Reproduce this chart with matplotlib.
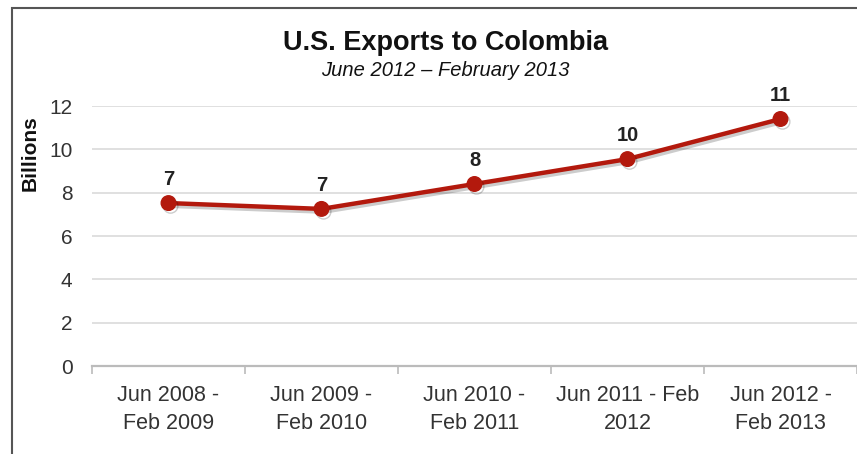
import matplotlib
matplotlib.use("Agg")
import matplotlib.pyplot as plt
import matplotlib.patheffects as pe
from matplotlib.patches import Rectangle

plt.rcParams['font.family'] = ['Liberation Sans', 'DejaVu Sans']

# data
periods = ["Jun 2008 -\nFeb 2009", "Jun 2009 -\nFeb 2010", "Jun 2010 -\nFeb 2011",
           "Jun 2011 - Feb\n2012", "Jun 2012 -\nFeb 2013"]
exports = [7.52, 7.25, 8.4, 9.55, 11.4]
point_labels = ["7", "7", "8", "10", "11"]
y_ticks = [0, 2, 4, 6, 8, 10, 12]

line_color = "#b3190d"

fig = plt.figure(figsize=(8.57, 4.54), dpi=100)
ax = fig.add_axes([92 / 857, 1 - 366 / 454, 1 - 92 / 857, 260 / 454])

x = list(range(len(periods)))
ax.plot(x, exports, color=line_color, lw=3.2, marker='o', ms=10.5, clip_on=False, zorder=3,
        path_effects=[pe.SimpleLineShadow(offset=(1.5, -2), shadow_color='k', alpha=0.2),
                      pe.Normal()])

# value labels above each point
for xi, yi, lab in zip(x, exports, point_labels):
    ax.annotate(lab, (xi, yi), xytext=(0, 10), textcoords='offset points',
                ha='center', va='bottom', fontsize=14.5, fontweight='bold', color='#222222')

ax.set_xlim(-0.5, len(periods) - 0.5)
ax.set_ylim(0, 12)
ax.set_yticks(y_ticks)
ax.set_xticks(x)
ax.set_xticklabels(periods, fontsize=15.5, color='#333333', linespacing=1.42)
ax.set_xticks([i - 0.5 for i in range(len(periods) + 1)], minor=True)
ax.tick_params(axis='x', which='major', length=0, pad=14)
ax.tick_params(axis='x', which='minor', length=6, color='#bbbbbb', width=1.2)
ax.tick_params(axis='y', length=0, pad=14, labelsize=15, labelcolor='#333333')

ax.grid(axis='y', color='#e0e0e0', lw=1.4)
ax.set_axisbelow(True)
for s in ['top', 'right', 'left']:
    ax.spines[s].set_visible(False)
ax.spines['bottom'].set_color('#bbbbbb')
ax.spines['bottom'].set_linewidth(1.6)

ax.set_ylabel("Billions", fontsize=15, fontweight='bold', color='#111111')
ax.yaxis.set_label_coords(-52 / 765, 0.82)

fig.text(445 / 857, 1 - 43 / 454, "U.S. Exports to Colombia", ha='center', va='center',
         fontsize=19.5, fontweight='bold', color='#111111')
fig.text(445 / 857, 1 - 71 / 454, "June 2012 \u2013 February 2013", ha='center', va='center',
         fontsize=14.5, fontstyle='italic', color='#111111')

# outer frame around the chart
fig.patches.append(Rectangle((12 / 857, -0.05), 1.1, 1 - 8 / 454 + 0.05,
                             transform=fig.transFigure, fill=False,
                             edgecolor='#555555', lw=1.5))

fig.savefig("out.png", dpi=100)
